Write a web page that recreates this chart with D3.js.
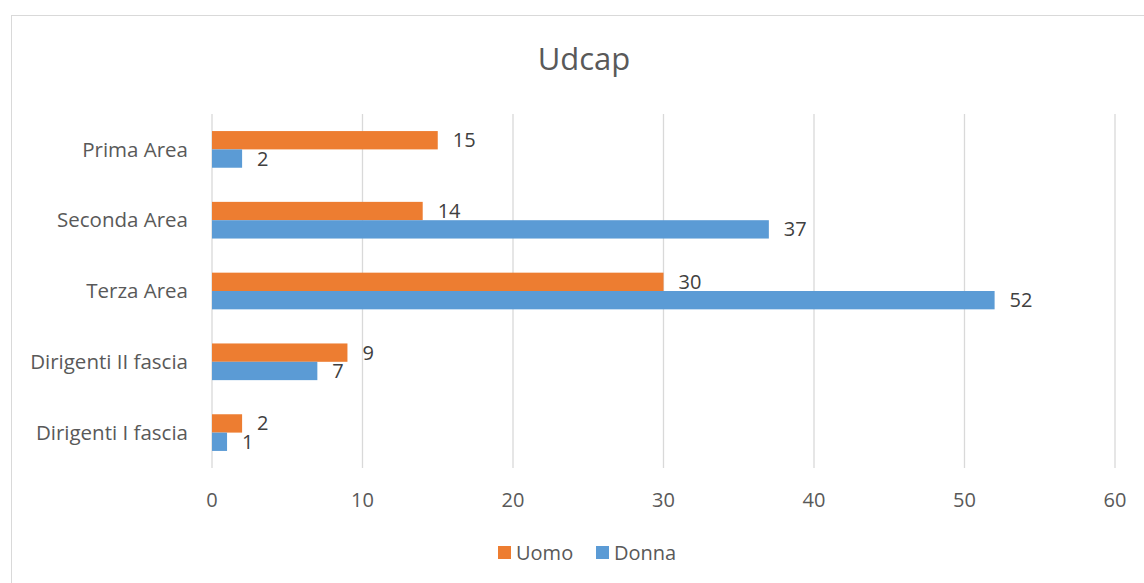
<!DOCTYPE html>
<html lang="it">
<head>
<meta charset="UTF-8">
<title>Udcap</title>
<script src="https://d3js.org/d3.v7.min.js"></script>
<style>
  body { margin: 0; background: #fff; }
  svg text { font-family: "Open Sans", "Noto Sans", sans-serif; }
</style>
</head>
<body>
<svg width="1144" height="583"></svg>
<script>
// data
const categories = ["Prima Area", "Seconda Area", "Terza Area", "Dirigenti II fascia", "Dirigenti I fascia"];
const series = ["Uomo", "Donna"];
const uomo = [15, 14, 30, 9, 2];
const donna = [2, 37, 52, 7, 1];
const xTicks = [0, 10, 20, 30, 40, 50, 60];
const colors = { Uomo: "#ED7D31", Donna: "#5B9BD5" };

const rows = categories.map((c, i) => ({ cat: c, Uomo: uomo[i], Donna: donna[i] }));

const svg = d3.select("svg");

// chart border
svg.append("rect").attr("x", 11.5).attr("y", 15.5).attr("width", 1140).attr("height", 580)
  .attr("fill", "none").attr("stroke", "#d9d9d9").attr("stroke-width", 1);

const x = d3.scaleLinear().domain([0, 60]).range([212, 1115]);
const y = d3.scaleBand().domain(categories).range([114, 468]).paddingInner(0.482).paddingOuter(0.241);
const ys = d3.scaleBand().domain(series).range([0, y.bandwidth()]);

// title
svg.append("text").attr("x", 584).attr("y", 70).attr("text-anchor", "middle")
  .attr("font-size", 31).attr("fill", "#595959").text("Udcap");

// gridlines
svg.append("g").selectAll("line").data(xTicks).enter().append("line")
  .attr("x1", d => x(d)).attr("x2", d => x(d)).attr("y1", 114).attr("y2", 468)
  .attr("stroke", "#d9d9d9").attr("stroke-width", 1.3);

// x tick labels
svg.append("g").selectAll("text").data(xTicks).enter().append("text")
  .attr("x", d => x(d)).attr("y", 500).attr("dy", "0.35em").attr("text-anchor", "middle")
  .attr("font-size", 20).attr("fill", "#595959").text(d => d);

// category labels
svg.append("g").selectAll("text").data(categories).enter().append("text")
  .attr("x", 188).attr("y", d => y(d) + y.bandwidth() / 2).attr("dy", "0.35em")
  .attr("text-anchor", "end").attr("font-size", 20.5).attr("fill", "#595959").text(d => d);

// bars
const groups = svg.append("g").selectAll("g").data(rows).enter().append("g")
  .attr("transform", d => "translate(0," + y(d.cat) + ")");

series.forEach(s => {
  groups.append("rect")
    .attr("x", x(0)).attr("y", ys(s))
    .attr("width", d => x(d[s]) - x(0)).attr("height", ys.bandwidth())
    .attr("fill", colors[s]);
  groups.append("text")
    .attr("x", d => x(d[s]) + 15).attr("y", ys(s) + ys.bandwidth() / 2).attr("dy", "0.35em")
    .attr("font-size", 20).attr("fill", "#404040").text(d => d[s]);
});

// legend
const legend = svg.append("g");
const legX = { Uomo: 498, Donna: 596 };
series.forEach(s => {
  legend.append("rect").attr("x", legX[s]).attr("y", 546).attr("width", 13).attr("height", 13).attr("fill", colors[s]);
  legend.append("text").attr("x", legX[s] + 18).attr("y", 552.5).attr("dy", "0.35em")
    .attr("font-size", 20).attr("fill", "#595959").text(s);
});
</script>
</body>
</html>
